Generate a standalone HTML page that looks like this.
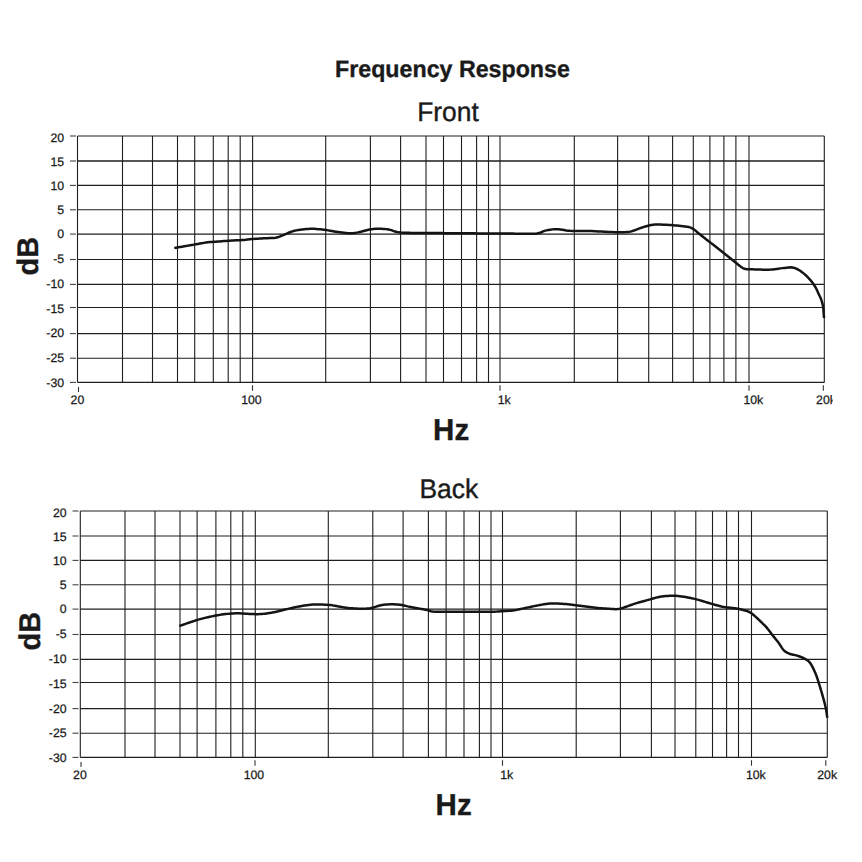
<!DOCTYPE html>
<html><head><meta charset="utf-8"><style>
html,body{margin:0;padding:0;background:#fff;width:862px;height:862px;overflow:hidden}
svg{position:absolute;left:0;top:0;display:block}
text{font-family:"Liberation Sans",sans-serif;text-rendering:geometricPrecision}
</style></head><body>
<svg width="862" height="862" viewBox="0 0 862 862" fill="#1a1a1a">
<defs><clipPath id="c20k"><rect x="800" y="385" width="32.6" height="25"/></clipPath></defs>
<text transform="translate(335.05,77.42) scale(0.9763,1)" font-size="23.79" font-weight="bold" stroke="#1a1a1a" stroke-width="0.35">Frequency Response</text>
<text transform="translate(417.19,120.50) scale(0.9761,1)" font-size="27.00" stroke="#1a1a1a" stroke-width="0.4">Front</text>
<text transform="translate(433.11,439.62) scale(0.9767,1)" font-size="30.21" font-weight="bold" stroke="#1a1a1a" stroke-width="0.35">Hz</text>
<text transform="translate(419.39,498.30) scale(0.9830,1)" font-size="26.86" stroke="#1a1a1a" stroke-width="0.4">Back</text>
<text transform="translate(435.61,814.62) scale(0.9767,1)" font-size="30.21" font-weight="bold" stroke="#1a1a1a" stroke-width="0.35">Hz</text>
<text transform="translate(38.03,275.49) rotate(-90) scale(0.9736,1)" font-size="29.79" font-weight="bold" stroke="#1a1a1a" stroke-width="0.35">dB</text>
<text transform="translate(40.12,650.49) rotate(-90) scale(0.9690,1)" font-size="29.93" font-weight="bold" stroke="#1a1a1a" stroke-width="0.35">dB</text>
<g stroke="#1e1e1e" stroke-width="1.1" fill="none"><line x1="77.5" y1="136.0" x2="824.3" y2="136.0"/><line x1="77.5" y1="161.0" x2="824.3" y2="161.0" stroke-width="1.5"/><line x1="77.5" y1="185.4" x2="824.3" y2="185.4"/><line x1="77.5" y1="209.8" x2="824.3" y2="209.8"/><line x1="77.5" y1="234.1" x2="824.3" y2="234.1"/><line x1="77.5" y1="259.5" x2="824.3" y2="259.5"/><line x1="77.5" y1="284.4" x2="824.3" y2="284.4"/><line x1="77.5" y1="307.5" x2="824.3" y2="307.5"/><line x1="77.5" y1="333.6" x2="824.3" y2="333.6"/><line x1="77.5" y1="358.2" x2="824.3" y2="358.2"/><line x1="77.5" y1="382.4" x2="824.3" y2="382.4"/><line x1="77.5" y1="136.0" x2="77.5" y2="382.4"/><line x1="122.5" y1="136.0" x2="122.5" y2="382.4"/><line x1="152.5" y1="136.0" x2="152.5" y2="382.4"/><line x1="177.5" y1="136.0" x2="177.5" y2="382.4"/><line x1="194.7" y1="136.0" x2="194.7" y2="382.4"/><line x1="213.3" y1="136.0" x2="213.3" y2="382.4"/><line x1="228.2" y1="136.0" x2="228.2" y2="382.4"/><line x1="240.2" y1="136.0" x2="240.2" y2="382.4"/><line x1="252.6" y1="136.0" x2="252.6" y2="382.4"/><line x1="325.7" y1="136.0" x2="325.7" y2="382.4"/><line x1="370.4" y1="136.0" x2="370.4" y2="382.4"/><line x1="400.6" y1="136.0" x2="400.6" y2="382.4"/><line x1="426.0" y1="136.0" x2="426.0" y2="382.4"/><line x1="443.5" y1="136.0" x2="443.5" y2="382.4"/><line x1="461.5" y1="136.0" x2="461.5" y2="382.4"/><line x1="476.6" y1="136.0" x2="476.6" y2="382.4"/><line x1="488.5" y1="136.0" x2="488.5" y2="382.4"/><line x1="500.0" y1="136.0" x2="500.0" y2="382.4"/><line x1="574.3" y1="136.0" x2="574.3" y2="382.4"/><line x1="617.6" y1="136.0" x2="617.6" y2="382.4"/><line x1="648.7" y1="136.0" x2="648.7" y2="382.4"/><line x1="672.6" y1="136.0" x2="672.6" y2="382.4"/><line x1="693.3" y1="136.0" x2="693.3" y2="382.4"/><line x1="709.9" y1="136.0" x2="709.9" y2="382.4"/><line x1="723.9" y1="136.0" x2="723.9" y2="382.4"/><line x1="735.9" y1="136.0" x2="735.9" y2="382.4"/><line x1="749.0" y1="136.0" x2="749.0" y2="382.4"/><line x1="824.3" y1="136.0" x2="824.3" y2="382.4"/></g><g stroke="#333" stroke-width="1.1"><line x1="70.0" y1="136.0" x2="76.0" y2="136.0" stroke="#444"/><line x1="70.0" y1="161.0" x2="76.0" y2="161.0" stroke="#444"/><line x1="70.0" y1="185.4" x2="76.0" y2="185.4" stroke="#444"/><line x1="70.0" y1="209.8" x2="76.0" y2="209.8" stroke="#444"/><line x1="70.0" y1="234.1" x2="76.0" y2="234.1" stroke="#444"/><line x1="70.0" y1="259.5" x2="76.0" y2="259.5" stroke="#444"/><line x1="70.0" y1="284.4" x2="76.0" y2="284.4" stroke="#444"/><line x1="70.0" y1="307.5" x2="76.0" y2="307.5" stroke="#444"/><line x1="70.0" y1="333.6" x2="76.0" y2="333.6" stroke="#444"/><line x1="70.0" y1="358.2" x2="76.0" y2="358.2" stroke="#444"/><line x1="70.0" y1="382.4" x2="76.0" y2="382.4" stroke="#444"/><line x1="78.5" y1="387.0" x2="78.5" y2="392.0"/><line x1="252.5" y1="385.2" x2="252.5" y2="390.8"/><line x1="500.0" y1="385.2" x2="500.0" y2="390.7"/><line x1="749.0" y1="385.2" x2="749.0" y2="390.7"/><line x1="823.3" y1="385.2" x2="823.3" y2="390.8"/></g><g font-size="12.3" fill="#1a1a1a" stroke="#1a1a1a" stroke-width="0.25"><text x="64.1" y="141.8" text-anchor="end">20</text><text x="64.1" y="165.8" text-anchor="end">15</text><text x="64.1" y="189.6" text-anchor="end">10</text><text x="64.1" y="213.8" text-anchor="end">5</text><text x="64.1" y="237.8" text-anchor="end">0</text><text x="64.1" y="262.8" text-anchor="end">-5</text><text x="64.1" y="287.8" text-anchor="end">-10</text><text x="64.1" y="312.8" text-anchor="end">-15</text><text x="64.1" y="337.4" text-anchor="end">-20</text><text x="64.1" y="362.1" text-anchor="end">-25</text><text x="64.1" y="386.8" text-anchor="end">-30</text><text x="77.4" y="403.5" text-anchor="middle">20</text><text x="251.4" y="403.5" text-anchor="middle">100</text><text x="504.2" y="403.5" text-anchor="middle">1k</text><text x="753.3" y="403.5" text-anchor="middle">10k</text><text x="826.0" y="403.5" text-anchor="middle" clip-path="url(#c20k)">20k</text></g><path d="M174.30,248.00 L176.27,247.66 L178.24,247.32 L180.21,246.99 L182.19,246.65 L184.16,246.31 L186.13,245.97 L188.10,245.63 L190.07,245.30 L192.04,244.96 L194.01,244.62 L195.99,244.27 L197.95,243.92 L199.92,243.57 L201.89,243.22 L203.86,242.87 L205.84,242.55 L207.82,242.28 L209.81,242.11 L211.81,241.99 L213.80,241.86 L215.80,241.71 L217.79,241.56 L219.78,241.40 L221.78,241.25 L223.77,241.10 L225.77,240.96 L227.76,240.82 L229.76,240.70 L231.76,240.58 L233.75,240.46 L235.75,240.35 L237.75,240.24 L239.75,240.13 L241.74,240.01 L243.74,239.88 L245.73,239.73 L247.72,239.53 L249.71,239.29 L251.70,239.09 L253.69,238.94 L255.69,238.81 L257.69,238.69 L259.68,238.57 L261.68,238.46 L263.68,238.35 L265.67,238.24 L267.67,238.13 L269.67,238.02 L271.67,237.94 L273.67,237.89 L275.65,237.71 L277.59,237.26 L279.48,236.61 L281.33,235.86 L283.18,235.09 L285.03,234.33 L286.87,233.55 L288.71,232.77 L290.57,232.02 L292.45,231.36 L294.37,230.81 L296.33,230.39 L298.30,230.05 L300.28,229.77 L302.26,229.53 L304.25,229.30 L306.24,229.09 L308.23,228.92 L310.23,228.83 L312.23,228.81 L314.23,228.87 L316.22,228.99 L318.22,229.16 L320.21,229.35 L322.20,229.57 L324.18,229.81 L326.17,230.07 L328.14,230.38 L330.11,230.73 L332.08,231.10 L334.04,231.46 L336.02,231.78 L338.00,232.06 L339.98,232.34 L341.96,232.60 L343.95,232.84 L345.94,233.04 L347.93,233.20 L349.93,233.27 L351.93,233.23 L353.92,233.06 L355.89,232.76 L357.86,232.39 L359.82,231.97 L361.76,231.51 L363.69,230.98 L365.62,230.45 L367.55,229.93 L369.50,229.49 L371.47,229.16 L373.46,228.94 L375.45,228.82 L377.45,228.78 L379.45,228.80 L381.45,228.86 L383.45,228.96 L385.44,229.12 L387.43,229.34 L389.40,229.65 L391.33,230.14 L393.20,230.86 L395.07,231.55 L397.00,232.05 L398.97,232.36 L400.96,232.55 L402.96,232.68 L404.96,232.77 L406.95,232.83 L408.95,232.87 L410.95,232.89 L412.95,232.90 L414.95,232.91 L416.96,232.92 L418.96,232.92 L420.96,232.93 L422.96,232.95 L424.96,232.96 L426.96,232.97 L428.96,232.99 L430.96,233.01 L432.96,233.03 L434.96,233.05 L436.96,233.06 L438.96,233.08 L440.96,233.10 L442.96,233.12 L444.96,233.13 L446.96,233.15 L448.96,233.17 L450.96,233.18 L452.96,233.20 L454.96,233.21 L456.96,233.23 L458.96,233.25 L460.96,233.26 L462.96,233.28 L464.96,233.29 L466.96,233.31 L468.96,233.32 L470.96,233.34 L472.96,233.35 L474.96,233.37 L476.96,233.38 L478.96,233.39 L480.96,233.41 L482.96,233.42 L484.96,233.44 L486.96,233.45 L488.96,233.46 L490.96,233.48 L492.96,233.49 L494.96,233.51 L496.96,233.52 L498.96,233.53 L500.96,233.54 L502.96,233.56 L504.96,233.57 L506.96,233.58 L508.96,233.59 L510.96,233.61 L512.96,233.62 L514.96,233.64 L516.96,233.66 L518.97,233.69 L520.97,233.72 L522.97,233.75 L524.97,233.78 L526.97,233.82 L528.97,233.83 L530.97,233.83 L532.96,233.78 L534.96,233.66 L536.95,233.46 L538.91,233.10 L540.80,232.49 L542.62,231.66 L544.46,230.90 L546.38,230.38 L548.34,229.99 L550.32,229.65 L552.30,229.38 L554.29,229.20 L556.29,229.14 L558.28,229.22 L560.27,229.44 L562.24,229.75 L564.21,230.09 L566.19,230.41 L568.17,230.66 L570.16,230.83 L572.16,230.93 L574.16,230.98 L576.16,231.01 L578.16,231.01 L580.16,231.00 L582.16,230.98 L584.16,230.97 L586.16,230.96 L588.16,230.98 L590.16,231.01 L592.16,231.08 L594.16,231.16 L596.16,231.27 L598.15,231.39 L600.15,231.50 L602.15,231.61 L604.15,231.71 L606.14,231.80 L608.14,231.90 L610.14,231.99 L612.14,232.07 L614.14,232.14 L616.14,232.18 L618.14,232.20 L620.14,232.21 L622.14,232.20 L624.14,232.17 L626.14,232.09 L628.13,231.92 L630.10,231.62 L632.04,231.16 L633.94,230.53 L635.80,229.80 L637.66,229.07 L639.55,228.40 L641.45,227.77 L643.35,227.15 L645.26,226.55 L647.18,225.99 L649.11,225.48 L651.06,225.06 L653.04,224.74 L655.03,224.57 L657.03,224.51 L659.03,224.51 L661.03,224.56 L663.02,224.63 L665.02,224.72 L667.02,224.83 L669.02,224.94 L671.01,225.07 L673.01,225.22 L675.00,225.38 L676.99,225.57 L678.98,225.77 L680.97,225.99 L682.96,226.21 L684.95,226.44 L686.93,226.71 L688.89,227.09 L690.79,227.67 L692.59,228.54 L694.25,229.63 L695.80,230.90 L697.31,232.21 L698.85,233.48 L700.42,234.72 L701.99,235.96 L703.56,237.19 L705.14,238.43 L706.71,239.66 L708.29,240.89 L709.86,242.13 L711.43,243.37 L713.00,244.60 L714.58,245.84 L716.15,247.08 L717.72,248.31 L719.29,249.55 L720.86,250.79 L722.44,252.02 L724.01,253.26 L725.58,254.50 L727.15,255.73 L728.72,256.97 L730.30,258.21 L731.86,259.45 L733.41,260.71 L734.95,262.00 L736.47,263.29 L738.00,264.58 L739.56,265.83 L741.17,267.01 L742.87,268.06 L744.70,268.82 L746.65,269.15 L748.64,269.19 L750.64,269.23 L752.64,269.34 L754.64,269.43 L756.64,269.50 L758.64,269.55 L760.64,269.60 L762.63,269.64 L764.63,269.68 L766.63,269.71 L768.63,269.70 L770.63,269.62 L772.63,269.47 L774.61,269.23 L776.59,268.95 L778.57,268.65 L780.55,268.37 L782.53,268.12 L784.52,267.90 L786.51,267.69 L788.50,267.50 L790.50,267.37 L792.48,267.43 L794.36,267.96 L796.19,268.72 L798.02,269.52 L799.75,270.51 L801.39,271.65 L802.98,272.87 L804.52,274.14 L806.00,275.48 L807.43,276.88 L808.82,278.32 L810.17,279.80 L811.46,281.32 L812.67,282.91 L813.80,284.56 L814.87,286.25 L815.87,287.98 L816.77,289.77 L817.60,291.59 L818.43,293.41 L819.29,295.21 L820.16,297.01 L820.95,298.85 L821.60,300.74 L822.16,302.66 L822.66,304.59 L823.06,306.55 L823.31,308.53 L823.47,310.53 L823.60,312.52 L823.75,314.52 L823.94,316.51 L824.10,318.00" fill="none" stroke="#141414" stroke-width="2.5" stroke-linejoin="round"/>
<g stroke="#1e1e1e" stroke-width="1.1" fill="none"><line x1="80.3" y1="511.0" x2="827.3" y2="511.0"/><line x1="80.3" y1="536.0" x2="827.3" y2="536.0"/><line x1="80.3" y1="560.4" x2="827.3" y2="560.4"/><line x1="80.3" y1="584.8" x2="827.3" y2="584.8"/><line x1="80.3" y1="609.1" x2="827.3" y2="609.1"/><line x1="80.3" y1="634.5" x2="827.3" y2="634.5"/><line x1="80.3" y1="659.4" x2="827.3" y2="659.4"/><line x1="80.3" y1="682.5" x2="827.3" y2="682.5"/><line x1="80.3" y1="708.6" x2="827.3" y2="708.6"/><line x1="80.3" y1="733.2" x2="827.3" y2="733.2"/><line x1="80.3" y1="757.4" x2="827.3" y2="757.4"/><line x1="80.3" y1="511.0" x2="80.3" y2="757.4"/><line x1="125.0" y1="511.0" x2="125.0" y2="757.4"/><line x1="155.0" y1="511.0" x2="155.0" y2="757.4"/><line x1="180.0" y1="511.0" x2="180.0" y2="757.4"/><line x1="197.1" y1="511.0" x2="197.1" y2="757.4"/><line x1="215.9" y1="511.0" x2="215.9" y2="757.4"/><line x1="230.8" y1="511.0" x2="230.8" y2="757.4"/><line x1="242.8" y1="511.0" x2="242.8" y2="757.4"/><line x1="255.3" y1="511.0" x2="255.3" y2="757.4"/><line x1="328.3" y1="511.0" x2="328.3" y2="757.4"/><line x1="372.8" y1="511.0" x2="372.8" y2="757.4"/><line x1="403.1" y1="511.0" x2="403.1" y2="757.4"/><line x1="428.4" y1="511.0" x2="428.4" y2="757.4"/><line x1="446.1" y1="511.0" x2="446.1" y2="757.4"/><line x1="464.0" y1="511.0" x2="464.0" y2="757.4"/><line x1="479.4" y1="511.0" x2="479.4" y2="757.4"/><line x1="491.0" y1="511.0" x2="491.0" y2="757.4"/><line x1="502.5" y1="511.0" x2="502.5" y2="757.4"/><line x1="576.2" y1="511.0" x2="576.2" y2="757.4"/><line x1="620.4" y1="511.0" x2="620.4" y2="757.4"/><line x1="651.4" y1="511.0" x2="651.4" y2="757.4"/><line x1="675.0" y1="511.0" x2="675.0" y2="757.4"/><line x1="695.8" y1="511.0" x2="695.8" y2="757.4"/><line x1="712.5" y1="511.0" x2="712.5" y2="757.4"/><line x1="726.6" y1="511.0" x2="726.6" y2="757.4"/><line x1="738.5" y1="511.0" x2="738.5" y2="757.4"/><line x1="751.5" y1="511.0" x2="751.5" y2="757.4"/><line x1="827.3" y1="511.0" x2="827.3" y2="757.4"/></g><g stroke="#333" stroke-width="1.1"><line x1="72.5" y1="511.0" x2="78.5" y2="511.0" stroke="#444"/><line x1="72.5" y1="536.0" x2="78.5" y2="536.0" stroke="#444"/><line x1="72.5" y1="560.4" x2="78.5" y2="560.4" stroke="#444"/><line x1="72.5" y1="584.8" x2="78.5" y2="584.8" stroke="#444"/><line x1="72.5" y1="609.1" x2="78.5" y2="609.1" stroke="#444"/><line x1="72.5" y1="634.5" x2="78.5" y2="634.5" stroke="#444"/><line x1="72.5" y1="659.4" x2="78.5" y2="659.4" stroke="#444"/><line x1="72.5" y1="682.5" x2="78.5" y2="682.5" stroke="#444"/><line x1="72.5" y1="708.6" x2="78.5" y2="708.6" stroke="#444"/><line x1="72.5" y1="733.2" x2="78.5" y2="733.2" stroke="#444"/><line x1="72.5" y1="757.4" x2="78.5" y2="757.4" stroke="#444"/><line x1="81.0" y1="762.0" x2="81.0" y2="767.0"/><line x1="255.0" y1="760.2" x2="255.0" y2="765.8"/><line x1="502.5" y1="760.2" x2="502.5" y2="765.7"/><line x1="751.5" y1="760.2" x2="751.5" y2="765.7"/><line x1="825.8" y1="760.2" x2="825.8" y2="765.8"/></g><g font-size="12.3" fill="#1a1a1a" stroke="#1a1a1a" stroke-width="0.25"><text x="66.6" y="516.9" text-anchor="end">20</text><text x="66.6" y="540.8" text-anchor="end">15</text><text x="66.6" y="564.7" text-anchor="end">10</text><text x="66.6" y="588.8" text-anchor="end">5</text><text x="66.6" y="612.9" text-anchor="end">0</text><text x="66.6" y="637.9" text-anchor="end">-5</text><text x="66.6" y="662.8" text-anchor="end">-10</text><text x="66.6" y="687.8" text-anchor="end">-15</text><text x="66.6" y="712.5" text-anchor="end">-20</text><text x="66.6" y="737.2" text-anchor="end">-25</text><text x="66.6" y="761.8" text-anchor="end">-30</text><text x="79.9" y="778.5" text-anchor="middle">20</text><text x="253.9" y="778.5" text-anchor="middle">100</text><text x="506.7" y="778.5" text-anchor="middle">1k</text><text x="755.8" y="778.5" text-anchor="middle">10k</text><text x="827.2" y="778.5" text-anchor="middle">20k</text></g><path d="M179.30,626.10 L181.18,625.43 L183.07,624.76 L184.95,624.08 L186.83,623.41 L188.72,622.74 L190.61,622.09 L192.51,621.45 L194.41,620.83 L196.32,620.23 L198.24,619.67 L200.16,619.13 L202.10,618.62 L204.04,618.13 L205.98,617.66 L207.93,617.21 L209.88,616.77 L211.83,616.35 L213.79,615.94 L215.76,615.56 L217.72,615.20 L219.70,614.88 L221.68,614.59 L223.66,614.33 L225.65,614.10 L227.63,613.88 L229.62,613.68 L231.62,613.51 L233.61,613.38 L235.61,613.31 L237.61,613.30 L239.61,613.34 L241.61,613.44 L243.60,613.58 L245.60,613.74 L247.59,613.87 L249.59,613.98 L251.59,614.05 L253.59,614.10 L255.59,614.14 L257.59,614.15 L259.59,614.12 L261.58,614.02 L263.58,613.86 L265.56,613.64 L267.55,613.36 L269.52,613.04 L271.49,612.69 L273.45,612.32 L275.41,611.92 L277.37,611.49 L279.31,611.02 L281.25,610.54 L283.19,610.06 L285.13,609.57 L287.08,609.11 L289.03,608.65 L290.97,608.19 L292.92,607.74 L294.87,607.31 L296.83,606.90 L298.79,606.51 L300.76,606.15 L302.73,605.80 L304.70,605.47 L306.68,605.16 L308.66,604.90 L310.65,604.68 L312.64,604.54 L314.64,604.47 L316.64,604.46 L318.64,604.48 L320.64,604.52 L322.64,604.57 L324.64,604.64 L326.64,604.74 L328.63,604.88 L330.62,605.09 L332.60,605.38 L334.57,605.73 L336.53,606.10 L338.50,606.46 L340.47,606.79 L342.45,607.11 L344.42,607.42 L346.40,607.72 L348.39,607.98 L350.37,608.19 L352.37,608.35 L354.36,608.48 L356.36,608.58 L358.36,608.65 L360.36,608.69 L362.36,608.69 L364.36,608.66 L366.36,608.59 L368.35,608.45 L370.34,608.22 L372.30,607.85 L374.22,607.31 L376.11,606.65 L378.00,605.99 L379.93,605.47 L381.89,605.09 L383.86,604.80 L385.85,604.57 L387.85,604.41 L389.84,604.33 L391.84,604.31 L393.84,604.36 L395.84,604.46 L397.83,604.61 L399.82,604.81 L401.81,605.07 L403.77,605.43 L405.71,605.90 L407.65,606.38 L409.61,606.81 L411.57,607.20 L413.54,607.57 L415.50,607.93 L417.47,608.29 L419.44,608.64 L421.41,609.00 L423.38,609.35 L425.34,609.71 L427.31,610.07 L429.18,610.56 L430.82,611.25 L432.68,611.57 L434.67,611.66 L436.67,611.71 L438.67,611.74 L440.67,611.76 L442.67,611.78 L444.67,611.79 L446.67,611.81 L448.67,611.81 L450.67,611.82 L452.67,611.82 L454.67,611.82 L456.67,611.82 L458.67,611.82 L460.67,611.82 L462.67,611.82 L464.67,611.81 L466.67,611.81 L468.67,611.80 L470.67,611.80 L472.67,611.79 L474.67,611.78 L476.67,611.77 L478.67,611.77 L480.67,611.76 L482.67,611.75 L484.67,611.73 L486.67,611.72 L488.67,611.71 L490.67,611.69 L492.67,611.67 L494.67,611.64 L496.67,611.59 L498.67,611.48 L500.66,611.32 L502.66,611.17 L504.65,611.06 L506.65,610.95 L508.65,610.82 L510.64,610.67 L512.63,610.47 L514.61,610.21 L516.59,609.88 L518.55,609.49 L520.50,609.07 L522.45,608.63 L524.41,608.19 L526.36,607.78 L528.32,607.36 L530.28,606.95 L532.23,606.54 L534.19,606.14 L536.15,605.75 L538.12,605.37 L540.08,605.00 L542.05,604.63 L544.02,604.29 L546.00,604.00 L547.98,603.76 L549.98,603.59 L551.97,603.49 L553.97,603.46 L555.97,603.48 L557.97,603.55 L559.97,603.66 L561.96,603.79 L563.96,603.95 L565.95,604.12 L567.94,604.30 L569.93,604.50 L571.92,604.71 L573.91,604.93 L575.90,605.18 L577.88,605.43 L579.86,605.68 L581.85,605.94 L583.83,606.19 L585.81,606.45 L587.80,606.72 L589.78,607.00 L591.76,607.27 L593.74,607.53 L595.73,607.77 L597.72,607.98 L599.71,608.17 L601.70,608.33 L603.70,608.48 L605.69,608.60 L607.69,608.72 L609.69,608.82 L611.69,608.90 L613.68,609.02 L615.68,609.13 L617.67,609.07 L619.64,608.76 L621.58,608.28 L623.49,607.69 L625.38,607.03 L627.26,606.35 L629.13,605.66 L631.01,604.97 L632.90,604.31 L634.80,603.68 L636.71,603.09 L638.63,602.52 L640.55,601.98 L642.48,601.44 L644.41,600.92 L646.34,600.39 L648.27,599.87 L650.20,599.34 L652.12,598.78 L654.03,598.21 L655.96,597.66 L657.90,597.19 L659.87,596.82 L661.84,596.52 L663.83,596.27 L665.82,596.06 L667.81,595.90 L669.81,595.77 L671.80,595.70 L673.80,595.69 L675.80,595.77 L677.79,595.95 L679.78,596.19 L681.76,596.47 L683.73,596.78 L685.71,597.10 L687.68,597.45 L689.64,597.83 L691.60,598.23 L693.56,598.65 L695.50,599.11 L697.44,599.61 L699.37,600.14 L701.29,600.70 L703.20,601.28 L705.11,601.87 L707.03,602.45 L708.94,603.04 L710.86,603.61 L712.78,604.16 L714.71,604.69 L716.64,605.22 L718.57,605.74 L720.50,606.24 L722.45,606.71 L724.41,607.11 L726.38,607.38 L728.38,607.50 L730.37,607.66 L732.36,607.90 L734.34,608.18 L736.31,608.49 L738.28,608.85 L740.24,609.25 L742.19,609.70 L744.12,610.19 L746.04,610.76 L747.93,611.43 L749.74,612.25 L751.44,613.30 L753.03,614.51 L754.54,615.81 L756.02,617.16 L757.48,618.53 L758.93,619.90 L760.39,621.28 L761.83,622.66 L763.27,624.05 L764.68,625.47 L766.05,626.92 L767.37,628.42 L768.62,629.98 L769.82,631.59 L771.00,633.20 L772.21,634.79 L773.45,636.36 L774.72,637.91 L775.98,639.46 L777.24,641.02 L778.45,642.60 L779.60,644.24 L780.68,645.92 L781.75,647.61 L782.89,649.25 L784.23,650.73 L785.78,651.96 L787.52,652.92 L789.37,653.68 L791.28,654.26 L793.23,654.71 L795.18,655.14 L797.11,655.66 L799.01,656.28 L800.89,656.96 L802.74,657.72 L804.54,658.58 L806.29,659.56 L807.94,660.67 L809.38,662.04 L810.60,663.61 L811.64,665.31 L812.59,667.08 L813.47,668.87 L814.31,670.69 L815.12,672.52 L815.89,674.36 L816.62,676.22 L817.27,678.11 L817.88,680.02 L818.47,681.93 L819.05,683.84 L819.64,685.75 L820.23,687.67 L820.80,689.58 L821.37,691.50 L821.94,693.42 L822.50,695.34 L823.05,697.26 L823.57,699.19 L824.08,701.13 L824.58,703.06 L825.07,705.00 L825.53,706.95 L825.94,708.90 L826.30,710.87 L826.60,712.85 L826.89,714.83 L827.16,716.81 L827.30,717.80" fill="none" stroke="#141414" stroke-width="2.5" stroke-linejoin="round"/>
</svg>
</body></html>
